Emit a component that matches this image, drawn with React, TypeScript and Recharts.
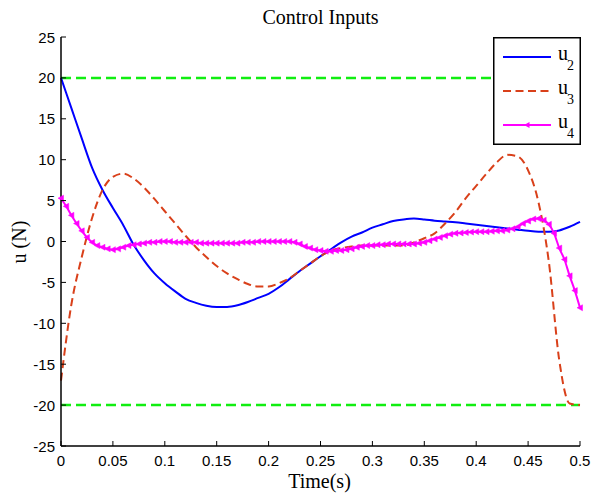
import React from "react";
import { LineChart, Line, XAxis, YAxis, ReferenceLine, Legend } from "recharts";

// Colours
const u2Color = "#0000ff";
const u3Color = "#d9401a";
const u4Color = "#ff00ff";
const limitColor = "#11ee11";

// Time samples (s) for u2 / u3
const time = [
  0, 0.01, 0.02, 0.03, 0.04, 0.05, 0.06, 0.07, 0.08, 0.09,
  0.1, 0.11, 0.12, 0.13, 0.14, 0.15, 0.16, 0.17, 0.18, 0.19,
  0.2, 0.21, 0.22, 0.23, 0.24, 0.25, 0.26, 0.27, 0.28, 0.29,
  0.3, 0.31, 0.32, 0.33, 0.34, 0.35, 0.36, 0.37, 0.38, 0.39,
  0.4, 0.41, 0.42, 0.43, 0.44, 0.45, 0.46, 0.47, 0.48, 0.49, 0.5,
];

// Control inputs (N)
const u2 = [
  20, 16.3, 12.6, 9.0, 6.3, 4.1, 2.0, -0.4, -2.3, -3.9,
  -5.1, -6.1, -7.0, -7.5, -7.85, -8.0, -8.0, -7.8, -7.4, -6.9,
  -6.4, -5.6, -4.6, -3.6, -2.7, -1.8, -0.95, -0.1, 0.6, 1.1,
  1.7, 2.1, 2.5, 2.7, 2.8, 2.7, 2.55, 2.45, 2.35, 2.2,
  2.05, 1.9, 1.75, 1.6, 1.45, 1.3, 1.2, 1.2, 1.35, 1.8, 2.4,
];
const u3 = [
  -17, -7.7, -1.9, 2.9, 6.3, 7.9, 8.3, 7.7, 6.6, 5.2,
  3.7, 2.2, 0.7, -0.7, -1.9, -3.0, -3.9, -4.6, -5.2, -5.5,
  -5.5, -5.1, -4.5, -3.6, -2.7, -1.8, -1.1, -0.8, -0.6, -0.5,
  -0.5, -0.5, -0.5, -0.5, -0.1, 0.4, 1.0, 2.2, 3.6, 5.3,
  6.8, 8.3, 9.7, 10.6, 10.4, 8.7, 4.8, -2.5, -14.5, -19.8, -20,
];

// u4 is plotted with markers at a finer time step
const timeFine = [
  0, 0.005, 0.01, 0.015, 0.02, 0.025, 0.03, 0.035, 0.04, 0.045,
  0.05, 0.055, 0.06, 0.065, 0.07, 0.075, 0.08, 0.085, 0.09, 0.095,
  0.1, 0.105, 0.11, 0.115, 0.12, 0.125, 0.13, 0.135, 0.14, 0.145,
  0.15, 0.155, 0.16, 0.165, 0.17, 0.175, 0.18, 0.185, 0.19, 0.195,
  0.2, 0.205, 0.21, 0.215, 0.22, 0.225, 0.23, 0.235, 0.24, 0.245,
  0.25, 0.255, 0.26, 0.265, 0.27, 0.275, 0.28, 0.285, 0.29, 0.295,
  0.3, 0.305, 0.31, 0.315, 0.32, 0.325, 0.33, 0.335, 0.34, 0.345,
  0.35, 0.355, 0.36, 0.365, 0.37, 0.375, 0.38, 0.385, 0.39, 0.395,
  0.4, 0.405, 0.41, 0.415, 0.42, 0.425, 0.43, 0.435, 0.44, 0.445,
  0.45, 0.455, 0.46, 0.465, 0.47, 0.475, 0.48, 0.485, 0.49, 0.495, 0.5,
];
const u4 = [
  5.3, 4.3, 3.2, 2.2, 1.3, 0.5, -0.1, -0.5, -0.7, -0.9,
  -1.0, -0.9, -0.7, -0.5, -0.4, -0.3, -0.2, -0.1, -0.1, 0.0,
  0.0, 0.0, -0.1, -0.1, -0.1, -0.1, -0.1, -0.2, -0.2, -0.2,
  -0.2, -0.2, -0.2, -0.2, -0.2, -0.1, -0.1, -0.1, 0.0, 0.0,
  0.0, 0.0, 0.0, 0.0, 0.0, -0.1, -0.3, -0.6, -0.8, -1.0,
  -1.1, -1.2, -1.2, -1.1, -1.1, -1.0, -0.9, -0.7, -0.6, -0.5,
  -0.5, -0.4, -0.4, -0.3, -0.3, -0.3, -0.3, -0.3, -0.3, -0.2,
  -0.1, 0.1, 0.3, 0.5, 0.7, 0.9, 1.0, 1.05, 1.1, 1.15,
  1.2, 1.2, 1.2, 1.25, 1.3, 1.3, 1.4, 1.55, 1.8, 2.2,
  2.5, 2.75, 2.8, 2.6, 2.1, 1.0, -0.8, -2.2, -4.2, -6.0, -8.1,
];

const xTicks = [0, 0.05, 0.1, 0.15, 0.2, 0.25, 0.3, 0.35, 0.4, 0.45, 0.5];
const yTicks = [-25, -20, -15, -10, -5, 0, 5, 10, 15, 20, 25];
const limits = [20, -20];

const chartData = time.map((t, i) => ({ t, u2: u2[i], u3: u3[i] }));
const u4Data = timeFine.map((t, i) => ({ t, u4: u4[i] }));

const tickFont = "'Liberation Sans', Arial, sans-serif";
const labelFont = "'Liberation Serif', 'Times New Roman', serif";

// ticks point inward like the matlab box axes
const BottomTick = (props: any) => {
  const { x, y, payload } = props;
  return (
    <g>
      <line x1={x} y1={y} x2={x} y2={y - 5} stroke="#000" />
      <text x={x} y={y + 20} textAnchor="middle" fontFamily={tickFont} fontSize={15} fill="#000">
        {payload.value}
      </text>
    </g>
  );
};

const LeftTick = (props: any) => {
  const { x, y, payload } = props;
  return (
    <g>
      <line x1={x} y1={y} x2={x + 5} y2={y} stroke="#000" />
      <text x={x - 6} y={y + 5.5} textAnchor="end" fontFamily={tickFont} fontSize={15} fill="#000">
        {payload.value}
      </text>
    </g>
  );
};

const TopTick = (props: any) => {
  const { x, y } = props;
  return <line x1={x} y1={y} x2={x} y2={y + 5} stroke="#000" />;
};

const RightTick = (props: any) => {
  const { x, y } = props;
  return <line x1={x} y1={y} x2={x - 5} y2={y} stroke="#000" />;
};

const TriDot = (props: any) => {
  const { cx, cy } = props;
  if (cx == null || cy == null) return null;
  return (
    <polygon
      points={`${cx - 3},${cy} ${cx + 2.5},${cy - 3} ${cx + 2.5},${cy + 3}`}
      fill={u4Color}
      stroke={u4Color}
      strokeWidth={0.5}
    />
  );
};

const legendItems = [
  { sub: "2", color: u2Color, dash: undefined as string | undefined, marker: false },
  { sub: "3", color: u3Color, dash: "8 4.5", marker: false },
  { sub: "4", color: u4Color, dash: undefined, marker: true },
];

const LegendBox = () => (
  <svg width={88} height={108} style={{ display: "block" }}>
    <rect x={0.75} y={0.75} width={86.5} height={106.5} fill="#fff" stroke="#000" strokeWidth={1.5} />
    {legendItems.map((it, i) => {
      const ly = 20 + i * 34;
      return (
        <g key={it.sub}>
          <line x1={10} y1={ly} x2={58} y2={ly} stroke={it.color} strokeWidth={2} strokeDasharray={it.dash} />
          {it.marker && (
            <polygon points={`${31},${ly} ${36.5},${ly - 3} ${36.5},${ly + 3}`} fill={it.color} />
          )}
          <text x={65} y={ly + 3} fontFamily={labelFont} fontSize={20} fill="#000">
            u
          </text>
          <text x={74} y={ly + 13} fontFamily={labelFont} fontSize={14} fill="#000">
            {it.sub}
          </text>
        </g>
      );
    })}
  </svg>
);

const App: React.FC = () => {
  return (
    <div style={{ position: "absolute", left: 0, top: 0, width: 592, height: 495, background: "#fff" }}>
      <div
        style={{
          position: "absolute", left: 0, top: 7, width: 641, textAlign: "center",
          fontFamily: labelFont, fontSize: 20, lineHeight: "20px",
        }}
      >
        Control Inputs
      </div>
      <div
        style={{
          position: "absolute", left: 0, top: 471, width: 639, textAlign: "center",
          fontFamily: labelFont, fontSize: 20, lineHeight: "20px",
        }}
      >
        Time(s)
      </div>
      <div
        style={{
          position: "absolute", left: -31, top: 232, width: 100, textAlign: "center",
          fontFamily: labelFont, fontSize: 20, lineHeight: "20px", transform: "rotate(-90deg)",
        }}
      >
        u (N)
      </div>
      <LineChart
        width={592}
        height={495}
        data={chartData}
        margin={{ top: 37, right: 12, bottom: 19, left: 0 }}
        style={{ position: "absolute", left: 0, top: 0 }}
      >
        <XAxis
          dataKey="t"
          type="number"
          domain={[0, 0.5]}
          ticks={xTicks}
          height={30}
          tickSize={0}
          tickMargin={0}
          tick={<BottomTick />}
          axisLine={{ stroke: "#000", strokeWidth: 1.5 }}
          interval={0}
        />
        <XAxis
          xAxisId="top"
          orientation="top"
          dataKey="t"
          type="number"
          domain={[0, 0.5]}
          ticks={xTicks}
          height={0}
          tickSize={0}
          tickMargin={0}
          tick={<TopTick />}
          axisLine={{ stroke: "#000", strokeWidth: 1.5 }}
          interval={0}
        />
        <YAxis
          type="number"
          domain={[-25, 25]}
          ticks={yTicks}
          width={61}
          tickSize={0}
          tickMargin={0}
          tick={<LeftTick />}
          axisLine={{ stroke: "#000", strokeWidth: 1.5 }}
          interval={0}
        />
        <YAxis
          yAxisId="right"
          orientation="right"
          type="number"
          domain={[-25, 25]}
          ticks={yTicks}
          width={0}
          tickSize={0}
          tickMargin={0}
          tick={<RightTick />}
          axisLine={{ stroke: "#000", strokeWidth: 1.5 }}
          interval={0}
        />
        {limits.map((v) => (
          <ReferenceLine key={v} y={v} stroke={limitColor} strokeWidth={2.5} strokeDasharray="10 5" />
        ))}
        <Line
          dataKey="u2"
          type="monotone"
          stroke={u2Color}
          strokeWidth={2}
          dot={false}
          isAnimationActive={false}
        />
        <Line
          dataKey="u3"
          type="monotone"
          stroke={u3Color}
          strokeWidth={2}
          strokeDasharray="8 4.5"
          dot={false}
          isAnimationActive={false}
        />
        <Line
          data={u4Data}
          dataKey="u4"
          type="monotone"
          stroke={u4Color}
          strokeWidth={2}
          dot={<TriDot />}
          isAnimationActive={false}
        />
        <Legend
          layout="horizontal"
          verticalAlign="middle"
          align="center"
          content={() => <LegendBox />}
          wrapperStyle={{ position: "absolute", left: 493, top: 37, width: 88, height: 108 }}
        />
      </LineChart>
    </div>
  );
};

export default App;
